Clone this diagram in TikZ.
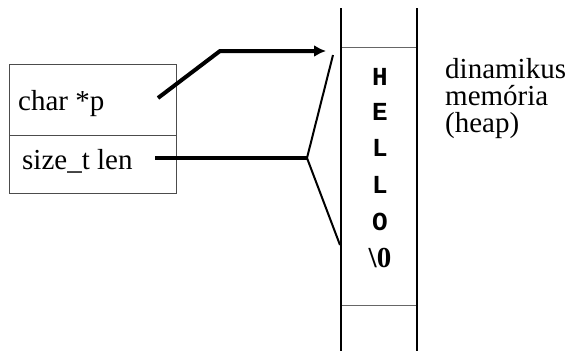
\documentclass[tikz,border=0pt]{standalone}
\usepackage{fontspec}
\setmainfont{Liberation Serif}
\newfontfamily\cellfont{Liberation Mono}
\usetikzlibrary{arrows.meta}

\tikzstyle{field} = [draw=black!70,line width=1pt,minimum width=167pt,inner sep=0pt]
\tikzstyle{txt} = [inner sep=0pt,font=\fontsize{29}{27}\selectfont]
\tikzstyle{cell} = [inner sep=0pt,font=\fontsize{26}{27}\selectfont\cellfont\bfseries]
\tikzstyle{wall} = [draw,line width=2pt]
\tikzstyle{bound} = [draw=black!60,line width=1pt]
\tikzstyle{pointer} = [draw,line width=4pt,->,>={Latex[length=12pt,width=12pt]}]
\tikzstyle{field link} = [draw,line width=4pt]
\tikzstyle{link} = [draw,line width=2pt]

\begin{document}
\begin{tikzpicture}[x=1pt,y=-1pt]
\useasboundingbox (0,0) rectangle (568,351);
% the struct
\node[field,minimum height=71pt] (ptrbox) at (92.5,99.5) {};
\node[field,minimum height=58pt] (lenbox) at (92.5,164) {};
\node[txt,anchor=base west] (ptr) at (18,110) {char *p};
\node[txt,anchor=base west] (len) at (22,169) {size\_t len};
% the heap
\node[minimum width=76pt,minimum height=257pt,inner sep=0pt] (heap) at (379,176.5) {};
\path[bound] (heap.north west) -- (heap.north east);
\path[bound] (heap.south west) -- (heap.south east);
\path[wall] (341,8) -- (341,351);
\path[wall] (417,8) -- (417,351);
\foreach \y/\name/\ch in {77/h/H, 112/e/E, 148/l1/L, 185/l2/L, 222/o/O}{
  \node[cell] (\name) at (380,\y) {\ch};
}
\node[txt] (nul) at (380,258) {\textbf{\textbackslash 0}};
\node[txt,anchor=north west,align=left] (heaplabel) at (445,58) {dinamikus\\memória\\(heap)};
% connectors
\coordinate (ptrend) at (158,98);
\coordinate (bend) at (220,51);
\coordinate (tip) at (326,51);
\coordinate (lenend) at (155,158);
\coordinate (fork) at (307,158);
\coordinate (first) at (333,55);
\coordinate (last) at (340,245);
\path[pointer] (ptrend) -- (bend) -- (tip);
\path[field link] (lenend) -- (fork);
\path[link] (first) -- (fork) -- (last);
\end{tikzpicture}
\end{document}
